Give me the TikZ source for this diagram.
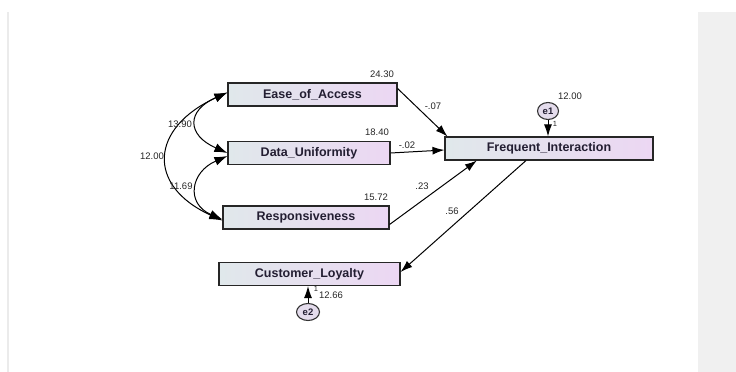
\documentclass[tikz,border=0pt]{standalone}
\usepackage{fontspec}
\setmainfont{Liberation Sans}
\usetikzlibrary{positioning,arrows.meta,shapes,calc}
\definecolor{BoxLeft}{RGB}{224,232,235}
\definecolor{BoxRight}{RGB}{236,215,243}
\definecolor{ErrFill}{RGB}{228,220,236}
\definecolor{PanelGray}{RGB}{240,240,240}
\definecolor{TextDark}{RGB}{35,30,50}

\begin{document}
\begin{tikzpicture}[x=1pt, y=1pt,
    var/.style={rectangle, draw=black!85, line width=1.1pt, left color=BoxLeft,
                right color=BoxRight, minimum height=23pt, inner sep=0pt,
                font=\fontsize{12.5}{14}\selectfont\bfseries, text=TextDark},
    err/.style={ellipse, draw=black!80, line width=1.1pt, fill=ErrFill,
                minimum width=21pt, minimum height=17pt, inner sep=0pt,
                font=\fontsize{9.5}{10}\selectfont\bfseries, text=TextDark},
    est/.style={font=\fontsize{9.5}{10}\selectfont, text=black!85, inner sep=0pt},
    one/.style={font=\fontsize{7.5}{8}\selectfont, text=black!85, inner sep=0pt},
    arrow/.style={-{Latex[length=12pt,width=8pt]}, line width=1pt},
    cov/.style={{Latex[length=13pt,width=9pt]}-{Latex[length=13pt,width=9pt]}, line width=1pt}
]
    \useasboundingbox (0,0) rectangle (736,-372);
    \fill[PanelGray] (698,-12) rectangle (736,-372);
    \fill[black!8] (7,-12) rectangle (9,-372);

    % observed variables
    \node[var, minimum width=169pt] (ease) at (312.5,-94.5) {Ease\_of\_Access};
    \node[var, minimum width=162pt] (data) at (309,-153) {Data\_Uniformity};
    \node[var, minimum width=166pt] (resp) at (306,-217.5) {Responsiveness};
    \node[var, minimum width=208pt] (freq) at (549,-148.5) {Frequent\_Interaction};
    \node[var, minimum width=181pt] (loyal) at (309.5,-274) {Customer\_Loyalty};

    % error terms
    \node[err] (e1) at (548,-111) {e1};
    \node[err, minimum width=23pt] (e2) at (308,-312) {e2};

    % regression paths
    \draw[arrow] ([yshift=6pt]ease.east) -- ([xshift=3pt]freq.north west);
    \draw[arrow] (data.east) -- ([yshift=-1.5pt]freq.west);
    \draw[arrow] ([yshift=-7pt]resp.east) -- ($(freq.south west)!0.155!(freq.south east)$);
    \draw[arrow] ($(freq.south west)!0.39!(freq.south east)$) -- ([yshift=2pt]loyal.east);
    \draw[arrow] (e1) -- (e1 |- freq.north);
    \draw[arrow] (e2) -- (e2 |- loyal.south);

    % covariances
    \draw[cov] ([yshift=2pt]ease.west) .. controls +(-41,-18) and +(-41,18) .. (data.west);
    \draw[cov] ([yshift=-3pt]data.west) .. controls +(-37,-16) and +(-37,16) .. ([yshift=-2pt]resp.west);
    \draw[cov] ([yshift=2pt]ease.west) .. controls +(-77,-35) and +(-77,35) .. ([yshift=-3pt]resp.west);

    % estimates
    \node[est] (var-ease) at (382,-74) {24.30};
    \node[est] (var-data) at (377,-132) {18.40};
    \node[est] (var-resp) at (376,-197) {15.72};
    \node[est] (w-ease) at (433,-106) {-.07};
    \node[est] (w-data) at (407,-145) {-.02};
    \node[est] (w-resp) at (422,-186) {.23};
    \node[est] (w-freq) at (452,-211) {.56};
    \node[est] (var-e1) at (570,-96) {12.00};
    \node[one] (one-e1) at (555,-124) {1};
    \node[est] (c-ed) at (180,-124) {13.90};
    \node[est] (c-er) at (152,-156) {12.00};
    \node[est] (c-dr) at (181,-186) {11.69};
    \node[est] (var-e2) at (331,-295) {12.66};
    \node[one] (one-e2) at (316,-289) {1};
\end{tikzpicture}
\end{document}
